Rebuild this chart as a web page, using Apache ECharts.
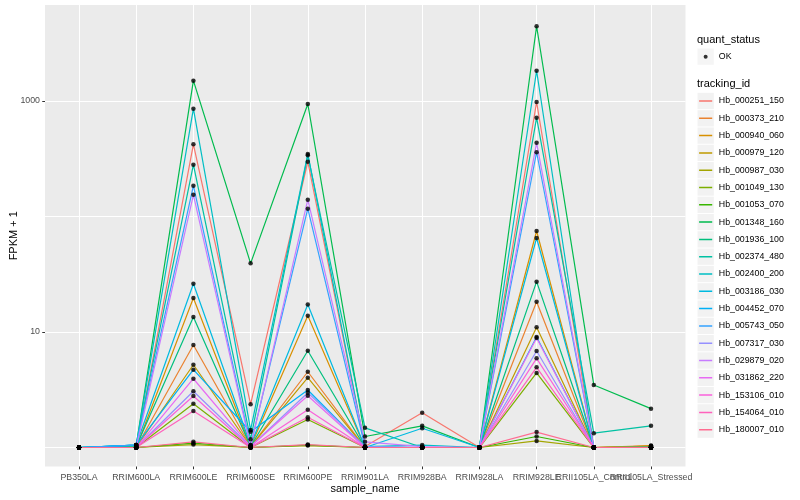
<!DOCTYPE html>
<html>
<head>
<meta charset="utf-8">
<script src="https://cdn.jsdelivr.net/npm/echarts@6/dist/echarts.min.js"></script>
<style>html,body{margin:0;padding:0;background:#fff}#c{width:800px;height:500px}</style>
</head>
<body>
<div id="c"></div>
<script>
// ---------- data ----------
const categories = ['PB350LA','RRIM600LA','RRIM600LE','RRIM600SE','RRIM600PE','RRIM901LA','RRIM928BA','RRIM928LA','RRIM928LE','RRII105LA_Control','RRII105LA_Stressed'];

const trackingIds = ['Hb_000251_150','Hb_000373_210','Hb_000940_060','Hb_000979_120','Hb_000987_030','Hb_001049_130','Hb_001053_070','Hb_001348_160','Hb_001936_100','Hb_002374_480','Hb_002400_200','Hb_003186_030','Hb_004452_070','Hb_005743_050','Hb_007317_030','Hb_029879_020','Hb_031862_220','Hb_153106_010','Hb_154064_010','Hb_180007_010'];

const seriesColors = ['#F8766D','#EA8331','#D89000','#C09B00','#A3A500','#7CAE00','#39B600','#00BB4E','#00BF7D','#00C1A3','#00BFC4','#00BAE0','#00B0F6','#35A2FF','#9590FF','#C77CFF','#E76BF3','#FA62DB','#FF62BC','#FF6C91'];

const Hb_000251_150 = [1, 1, 422, 2.37, 298, 1.02, 2.0, 1, 980, 1, 1.02];
const Hb_000373_210 = [1, 1, 7.72, 1.02, 4.53, 1, 1, 1, 18.3, 1, 1.04];
const Hb_000940_060 = [1, 1, 19.7, 1.02, 13.8, 1, 1, 1, 74.9, 1, 1.03];
const Hb_000979_120 = [1, 1, 5.21, 1.02, 4.02, 1, 1, 1, 11.0, 1, 1.03];
const Hb_000987_030 = [1, 1, 1.06, 1, 1.04, 1, 1, 1, 1.14, 1, 1];
const Hb_001049_130 = [1, 1, 2.39, 1, 1.75, 1, 1, 1, 4.42, 1, 1];
const Hb_001053_070 = [1, 1, 1.09, 1, 1.05, 1, 1, 1, 1.245, 1, 1];
const Hb_001348_160 = [1, 1.04, 1500, 39.3, 942, 1.245, 1.54, 1, 4436, 3.48, 2.17];
const Hb_001936_100 = [1, 1.02, 13.5, 1.02, 6.89, 1, 1, 1, 27.3, 1, 1];
const Hb_002374_480 = [1, 1.05, 281, 1.18, 340, 1.48, 1, 1, 717, 1.33, 1.54];
const Hb_002400_200 = [1, 1.05, 858, 1.42, 348, 1.02, 1.05, 1, 1829, 1, 1.01];
const Hb_003186_030 = [1, 1.05, 26.2, 1.05, 17.3, 1, 1.47, 1, 65.2, 1, 1];
const Hb_004452_070 = [1, 1.05, 4.72, 1.37, 3.15, 1, 1, 1, 9.05, 1, 1];
const Hb_005743_050 = [1, 1.05, 185, 1.05, 117, 1.02, 1, 1, 360, 1, 1];
const Hb_007317_030 = [1, 1, 3.07, 1.02, 2.98, 1.02, 1, 1, 6.85, 1, 1];
const Hb_029879_020 = [1, 1, 154, 1.02, 140, 1.12, 1.02, 1, 435, 1, 1];
const Hb_031862_220 = [1, 1, 3.94, 1.02, 2.81, 1, 1, 1, 8.87, 1, 1];
const Hb_153106_010 = [1, 1, 2.79, 1, 2.12, 1, 1, 1, 5.92, 1, 1];
const Hb_154064_010 = [1, 1, 2.07, 1, 1.83, 1, 1, 1, 4.95, 1, 1];
const Hb_180007_010 = [1, 1, 1.12, 1, 1.06, 1, 1, 1, 1.36, 1, 1];

const seriesValues = [Hb_000251_150, Hb_000373_210, Hb_000940_060, Hb_000979_120, Hb_000987_030, Hb_001049_130, Hb_001053_070, Hb_001348_160, Hb_001936_100, Hb_002374_480, Hb_002400_200, Hb_003186_030, Hb_004452_070, Hb_005743_050, Hb_007317_030, Hb_029879_020, Hb_031862_220, Hb_153106_010, Hb_154064_010, Hb_180007_010];

const yTickValues = [10, 1000];
const quantStatus = ['OK'];

// ---------- chart ----------
const FONT = '"Liberation Sans", Arial, Helvetica, sans-serif';
const yMin = 0.685, yMax = 6780;
// legend key: a short horizontal bar centred in a square key (corner points keep the box size)
const KEY_LINE_ICON = 'path://M0,0L0.01,0M17.28,17.28L17.27,17.28M1.7,7.85L15.6,7.85L15.6,9.45L1.7,9.45Z';

const lineSeries = trackingIds.map((id, i) => ({
  name: id,
  type: 'line',
  xAxisIndex: 1,
  yAxisIndex: 2,
  data: seriesValues[i],
  symbol: 'none',
  clip: false,
  silent: true,
  lineStyle: { color: seriesColors[i], width: 1.2 },
  itemStyle: { color: seriesColors[i] },
  emphasis: { disabled: true },
  z: 2
}));

const pointData = [];
seriesValues.forEach(vals => vals.forEach((v, j) => pointData.push([j, v])));

const legendCommon = { orient: 'vertical', padding: 0, itemGap: 1, selectedMode: false };

const option = {
  animation: false,
  backgroundColor: '#FFFFFF',
  textStyle: { fontFamily: FONT },
  title: [
    { text: 'quant_status', left: 697, top: 34.5, padding: 0,
      textStyle: { fontSize: 11, fontWeight: 'normal', color: '#000000', fontFamily: FONT } },
    { text: 'tracking_id', left: 697, top: 78.5, padding: 0,
      textStyle: { fontSize: 11, fontWeight: 'normal', color: '#000000', fontFamily: FONT } }
  ],
  legend: [
    Object.assign({}, legendCommon, {
      id: 'qsBg', data: quantStatus, left: 697.5, top: 48.5,
      itemWidth: 16.3, itemHeight: 16.3, icon: 'rect',
      itemStyle: { color: '#F2F2F2', borderWidth: 0 },
      textStyle: { fontSize: 8.8, color: '#000000', fontFamily: FONT }, z: 4
    }),
    Object.assign({}, legendCommon, {
      id: 'qsFg', data: quantStatus, left: 703.65, top: 54.65,
      itemWidth: 4, itemHeight: 4, icon: 'circle',
      itemStyle: { color: '#000000', borderWidth: 0 },
      textStyle: { fontSize: 1, color: 'rgba(0,0,0,0)' }, z: 5
    }),
    Object.assign({}, legendCommon, {
      id: 'tiBg', data: trackingIds, left: 697.5, top: 92.85,
      itemWidth: 16.3, itemHeight: 16.3, icon: 'rect',
      itemStyle: { color: '#F2F2F2', borderWidth: 0 },
      textStyle: { fontSize: 8.8, color: '#000000', fontFamily: FONT }, z: 4
    }),
    Object.assign({}, legendCommon, {
      id: 'tiFg', data: trackingIds, left: 697.5, top: 92.85,
      itemWidth: 16.3, itemHeight: 16.3, icon: KEY_LINE_ICON,
      itemStyle: { borderWidth: 0 },
      textStyle: { fontSize: 8.8, color: 'rgba(0,0,0,0)', fontFamily: FONT }, z: 5
    })
  ],
  grid: [
    { left: 45, top: 5, right: 114.5, bottom: 33.5, show: true, backgroundColor: '#EBEBEB', borderWidth: 0,
      containLabel: false, outerBoundsMode: 'none' },
    { left: 79, top: 5, right: 149, bottom: 33.5, show: false, containLabel: false, outerBoundsMode: 'none' }
  ],
  xAxis: [
    { gridIndex: 0, type: 'value', show: false, min: 0, max: 1 },
    { gridIndex: 1, type: 'category', data: categories, boundaryGap: false, position: 'bottom',
      axisLine: { show: false },
      axisTick: { show: true, length: 2.75, interval: 0, lineStyle: { color: '#333333', width: 1 } },
      axisLabel: { interval: 0, hideOverlap: false, margin: 7, fontSize: 8.8, color: '#4D4D4D', fontFamily: FONT },
      splitLine: { show: true, interval: 0, lineStyle: { color: '#FFFFFF', width: 1 } },
      name: 'sample_name', nameLocation: 'middle', nameGap: 16.5, nameMoveOverlap: false,
      nameTextStyle: { fontSize: 11, color: '#000000', fontFamily: FONT } }
  ],
  yAxis: [
    { gridIndex: 0, type: 'log', logBase: 10, min: yMin, max: yMax, position: 'left',
      axisLine: { show: false }, axisTick: { show: false }, axisLabel: { show: false },
      splitLine: { show: true, showMinLine: false, showMaxLine: false, lineStyle: { color: '#FFFFFF', width: 1 } } },
    { gridIndex: 0, type: 'log', logBase: 10, min: yMin, max: yMax, position: 'left',
      axisLine: { show: false },
      axisTick: { show: true, length: 2.75, customValues: yTickValues, lineStyle: { color: '#333333', width: 1 } },
      axisLabel: { show: true, customValues: yTickValues, margin: 5, fontSize: 8.8, color: '#4D4D4D', fontFamily: FONT,
        formatter: v => (yTickValues.some(t => Math.abs(t - v) / t < 1e-6) ? String(Math.round(v)) : '') },
      splitLine: { show: false },
      name: 'FPKM + 1', nameLocation: 'middle', nameGap: 26, nameRotate: 90, nameMoveOverlap: false,
      nameTextStyle: { fontSize: 11, color: '#000000', fontFamily: FONT } },
    { gridIndex: 1, type: 'log', logBase: 10, min: yMin, max: yMax, show: false }
  ],
  series: lineSeries.concat([{
    name: 'OK', type: 'scatter', xAxisIndex: 1, yAxisIndex: 2,
    data: pointData, symbol: 'circle', symbolSize: 4.5, clip: false, silent: true,
    itemStyle: { color: '#000000' }, z: 3
  }])
};

const chart = echarts.init(document.getElementById('c'), null, { renderer: 'canvas' });
chart.setOption(option);
</script>
</body>
</html>
